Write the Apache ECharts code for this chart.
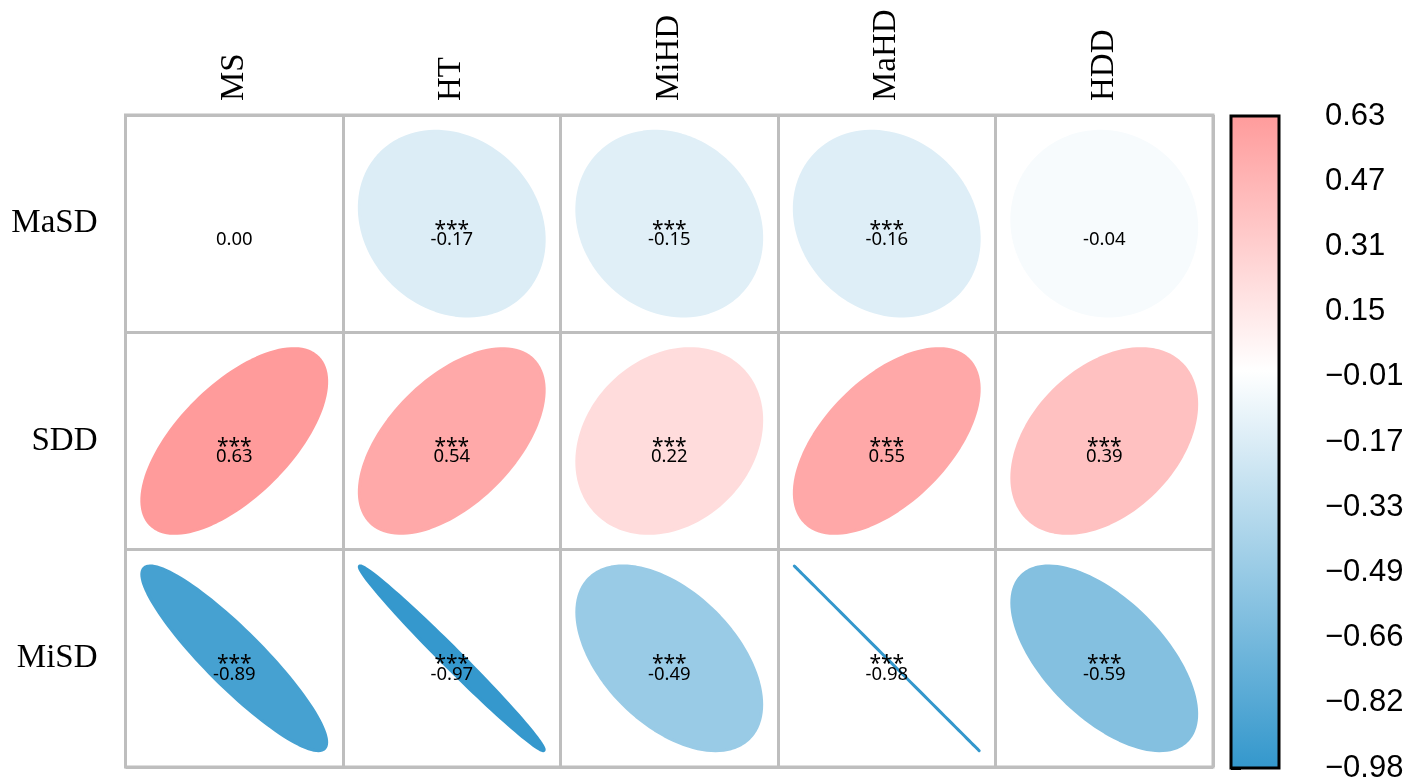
<!DOCTYPE html>
<html>
<head>
<meta charset="utf-8">
<script src="https://cdn.jsdelivr.net/npm/echarts@6/dist/echarts.min.js"></script>
<style>
html,body{margin:0;padding:0;background:#fff;}
#chart{width:1418px;height:784px;}
</style>
</head>
<body>
<div id="chart"></div>
<script>
// ---- data ----
const rowNames = ['MaSD', 'SDD', 'MiSD'];
const colNames = ['MS', 'HT', 'MiHD', 'MaHD', 'HDD'];
const valuesMaSD = [0.00, -0.17, -0.15, -0.16, -0.04];
const valuesSDD  = [0.63, 0.54, 0.22, 0.55, 0.39];
const valuesMiSD = [-0.89, -0.97, -0.49, -0.98, -0.59];
const sigMaSD = ['', '***', '***', '***', ''];
const sigSDD  = ['***', '***', '***', '***', '***'];
const sigMiSD = ['***', '***', '***', '***', '***'];
const colorbarTickLabels = ['\u22120.98', '\u22120.82', '\u22120.66', '\u22120.49', '\u22120.33', '\u22120.17', '\u22120.01', '0.15', '0.31', '0.47', '0.63'];
const colorStopValues = [-0.98, 0, 0.63];
const colorStopColors = ['#3397CC', '#FFFFFF', '#FF9B9B'];
const colorMin = -0.98, colorMax = 0.63;
const shapeScale = 0.98; // values divided by max |limit| for ellipse shape

// ---- helpers ----
function hexToRgb(h) {
  return [parseInt(h.slice(1, 3), 16), parseInt(h.slice(3, 5), 16), parseInt(h.slice(5, 7), 16)];
}
function colorFor(v) {
  if (v <= colorStopValues[0]) return colorStopColors[0];
  for (let i = 0; i < colorStopValues.length - 1; i++) {
    const a = colorStopValues[i], b = colorStopValues[i + 1];
    if (v <= b) {
      const t = (v - a) / (b - a);
      const c1 = hexToRgb(colorStopColors[i]), c2 = hexToRgb(colorStopColors[i + 1]);
      const c = c1.map((x, j) => Math.round(x + (c2[j] - x) * t));
      return 'rgb(' + c.join(',') + ')';
    }
  }
  return colorStopColors[colorStopColors.length - 1];
}

const rowValues = [valuesMaSD, valuesSDD, valuesMiSD];
const rowSig = [sigMaSD, sigSDD, sigMiSD];
const cells = [];
rowValues.forEach((vals, ri) => {
  vals.forEach((v, ci) => {
    cells.push({ value: [ci, ri, v], sig: rowSig[ri][ci] });
  });
});

const ELL = 0.85;
function renderCell(params, api) {
  const ci = api.value(0), ri = api.value(1), v = api.value(2);
  const sig = cells[params.dataIndex].sig;
  const c = api.coord([ci, ri]);
  const s = api.size([1, 1]);
  const r = Math.max(-1, Math.min(1, v / shapeScale));
  const d = Math.acos(r);
  const pts = [];
  const N = 120;
  for (let i = 0; i < N; i++) {
    const k = i / N * 2 * Math.PI;
    pts.push([
      c[0] + Math.cos(k + d / 2) / 2 * ELL * s[0],
      c[1] - Math.cos(k - d / 2) / 2 * ELL * s[1]
    ]);
  }
  const col = colorFor(v);
  const children = [{
    type: 'polygon',
    shape: { points: pts },
    style: { fill: col, stroke: col, lineWidth: 3, lineJoin: 'round' }
  }];
  if (sig) {
    children.push({
      type: 'text',
      style: {
        text: sig, x: c[0], y: c[1] + 6, align: 'center', verticalAlign: 'middle',
        font: '21px "Noto Sans"', fill: '#000'
      }
    });
  }
  children.push({
    type: 'text',
    style: {
      text: v.toFixed(2), x: c[0], y: c[1] + 16, align: 'center', verticalAlign: 'middle',
      font: '18.5px "Noto Sans"', fill: '#000'
    }
  });
  return { type: 'group', children: children };
}

function renderColorbar(params, api) {
  const p0 = api.coord([0, 0]);
  const p1 = api.coord([1, colorbarTickLabels.length - 1]);
  const stops = colorStopValues.map((v, i) => ({
    offset: (colorMax - v) / (colorMax - colorMin),
    color: colorStopColors[i]
  })).sort((a, b) => a.offset - b.offset);
  return {
    type: 'rect',
    shape: { x: p0[0], y: p1[1], width: p1[0] - p0[0], height: p0[1] - p1[1] },
    style: {
      fill: new echarts.graphic.LinearGradient(0, 0, 0, 1, stops),
      stroke: '#000', lineWidth: 3
    }
  };
}

const chart = echarts.init(document.getElementById('chart'), null, { renderer: 'canvas' });
const gridGray = '#BEBEBE';
chart.setOption({
  backgroundColor: '#fff',
  animation: false,
  grid: [
    { left: 125.5, top: 115, width: 1087.5, height: 652, show: true, borderColor: gridGray, borderWidth: 3, backgroundColor: 'transparent' },
    { left: 1231, top: 116, width: 48, height: 652 }
  ],
  xAxis: [
    {
      gridIndex: 0, type: 'category', data: colNames, position: 'top', boundaryGap: true,
      axisLine: { show: false }, axisTick: { show: false },
      splitLine: { show: true, lineStyle: { color: gridGray, width: 3 } },
      axisLabel: { rotate: -90, margin: 14, color: '#000', fontFamily: '"Liberation Serif", serif', fontSize: 33 }
    },
    { gridIndex: 1, type: 'value', min: 0, max: 1, show: false }
  ],
  yAxis: [
    {
      gridIndex: 0, type: 'category', data: rowNames, inverse: true, boundaryGap: true,
      axisLine: { show: false }, axisTick: { show: false },
      splitLine: { show: true, lineStyle: { color: gridGray, width: 3 } },
      axisLabel: { margin: 28, color: '#000', fontFamily: '"Liberation Serif", serif', fontSize: 33 }
    },
    {
      gridIndex: 1, type: 'value', position: 'right', min: 0, max: colorbarTickLabels.length - 1, interval: 1,
      axisLine: { show: false },
      axisTick: { show: true, inside: false, length: 10, lineStyle: { color: '#000', width: 3 } },
      splitLine: { show: false },
      axisLabel: {
        margin: 46, color: '#000', fontFamily: '"Liberation Sans", Arial, sans-serif', fontSize: 31, align: 'left',
        formatter: function (v) { return colorbarTickLabels[Math.round(v)]; }
      }
    }
  ],
  series: [
    {
      type: 'custom', xAxisIndex: 0, yAxisIndex: 0, renderItem: renderCell,
      data: cells.map(c => c.value), clip: false, silent: true
    },
    {
      type: 'custom', xAxisIndex: 1, yAxisIndex: 1, renderItem: renderColorbar,
      data: [[0, 0]], clip: false, silent: true, z: 1
    }
  ]
});
</script>
</body>
</html>
